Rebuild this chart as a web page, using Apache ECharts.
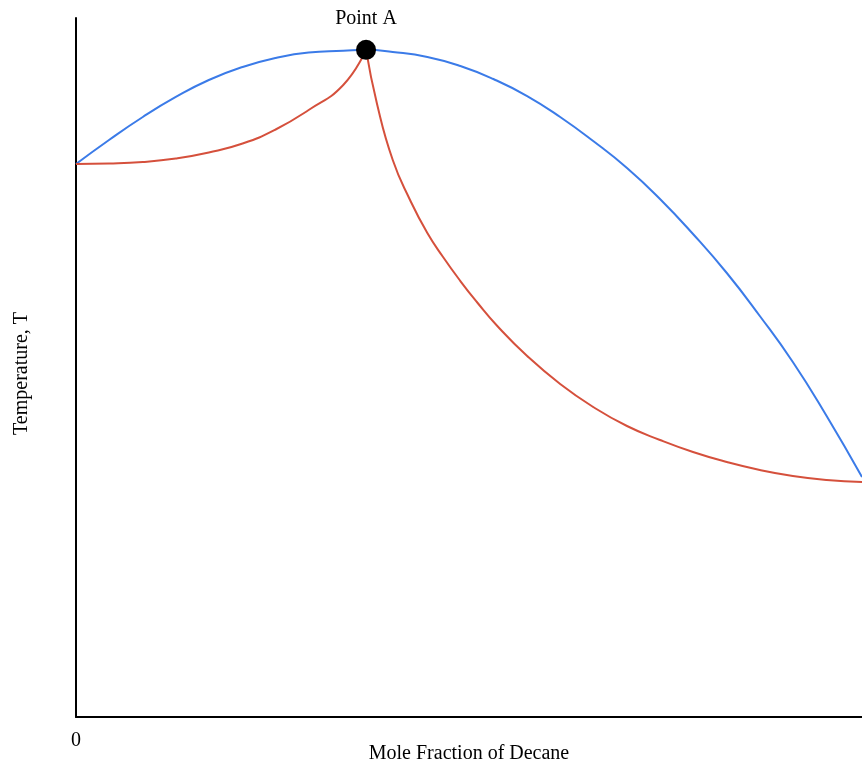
<!DOCTYPE html>
<html>
<head>
<meta charset="utf-8">
<script src="https://cdn.jsdelivr.net/npm/echarts@6/dist/echarts.min.js"></script>
<style>html,body{margin:0;padding:0;background:#fff}#c{width:862px;height:765px}</style>
</head>
<body>
<div id="c"></div>
<script>
// Mole fraction of decane (x, 0..1) and temperature (relative units, y)
const dewX = [0, 0.042, 0.085, 0.127, 0.169, 0.212, 0.254, 0.296, 0.340, 0.369, 0.403, 0.447, 0.489, 0.531, 0.574, 0.616, 0.658, 0.701, 0.743, 0.785, 0.828, 0.870, 0.912, 0.955, 1.0];
const dewY = [79.11, 82.55, 85.84, 88.70, 91.13, 92.99, 94.28, 95.06, 95.30, 95.45, 95.14, 94.42, 93.13, 91.27, 88.84, 85.84, 82.40, 78.54, 74.11, 69.10, 63.52, 57.37, 50.79, 43.06, 34.33];

const leftX = [0, 0.042, 0.085, 0.127, 0.169, 0.212, 0.254, 0.296, 0.340, 0.369];
const leftY = [79.11, 79.18, 79.40, 79.90, 80.76, 82.04, 84.05, 86.84, 90.41, 95.45];

const rightX = [0.369, 0.383, 0.403, 0.425, 0.447, 0.467, 0.489, 0.510, 0.536, 0.574, 0.616, 0.658, 0.701, 0.743, 0.785, 0.828, 0.870, 0.912, 0.955, 1.0];
const rightY = [95.45, 87.70, 79.68, 73.96, 69.24, 65.81, 62.37, 59.37, 55.94, 51.64, 47.64, 44.35, 41.63, 39.63, 37.91, 36.48, 35.34, 34.48, 33.91, 33.62];

const pointA = { name: 'Point A', x: 0.369, y: 95.45 };
const xTickLabels = ['0'];

const zip = (xs, ys) => xs.map((x, i) => [x, ys[i]]);
const font = 'Liberation Serif, Times New Roman, serif';

const chart = echarts.init(document.getElementById('c'), null, { renderer: 'canvas' });
chart.setOption({
  animation: false,
  backgroundColor: '#ffffff',
  grid: { left: 76, right: 0, top: 18, bottom: 48, containLabel: false, outerBoundsMode: 'none' },
  xAxis: {
    type: 'value', min: 0, max: 1, interval: 1,
    name: 'Mole Fraction of Decane', nameLocation: 'middle', nameGap: 27, nameMoveOverlap: false,
    nameTextStyle: { fontFamily: font, fontSize: 20, color: '#000' },
    axisLine: { show: true, lineStyle: { color: '#000', width: 2 } },
    axisTick: { show: false },
    splitLine: { show: false },
    axisLabel: {
      fontFamily: font, fontSize: 20, color: '#000', margin: 14,
      formatter: v => (v === 0 ? xTickLabels[0] : '')
    }
  },
  yAxis: {
    type: 'value', min: 0, max: 100,
    name: 'Temperature, T', nameLocation: 'middle', nameGap: 44, nameMoveOverlap: false,
    nameTextStyle: { fontFamily: font, fontSize: 20, color: '#000', padding: [0, 12, 0, 0] },
    axisLine: { show: true, lineStyle: { color: '#000', width: 2 } },
    axisTick: { show: false },
    splitLine: { show: false },
    axisLabel: { show: false }
  },
  series: [
    {
      type: 'line', data: zip(dewX, dewY), smooth: 0.5, showSymbol: false,
      lineStyle: { color: '#3b7be8', width: 2 }, z: 2
    },
    {
      type: 'line', data: zip(leftX, leftY), smooth: 0.5, showSymbol: false,
      lineStyle: { color: '#d5503c', width: 2 }, z: 2
    },
    {
      type: 'line', data: zip(rightX, rightY), smooth: 0.5, showSymbol: false,
      lineStyle: { color: '#d5503c', width: 2 }, z: 2
    },
    {
      type: 'scatter', data: [[pointA.x, pointA.y]], symbolSize: 20,
      itemStyle: { color: '#000', opacity: 1 }, z: 5,
      label: {
        show: true, position: 'top', distance: 11, formatter: pointA.name,
        fontFamily: font, fontSize: 20, color: '#000'
      }
    }
  ]
});
</script>
</body>
</html>
